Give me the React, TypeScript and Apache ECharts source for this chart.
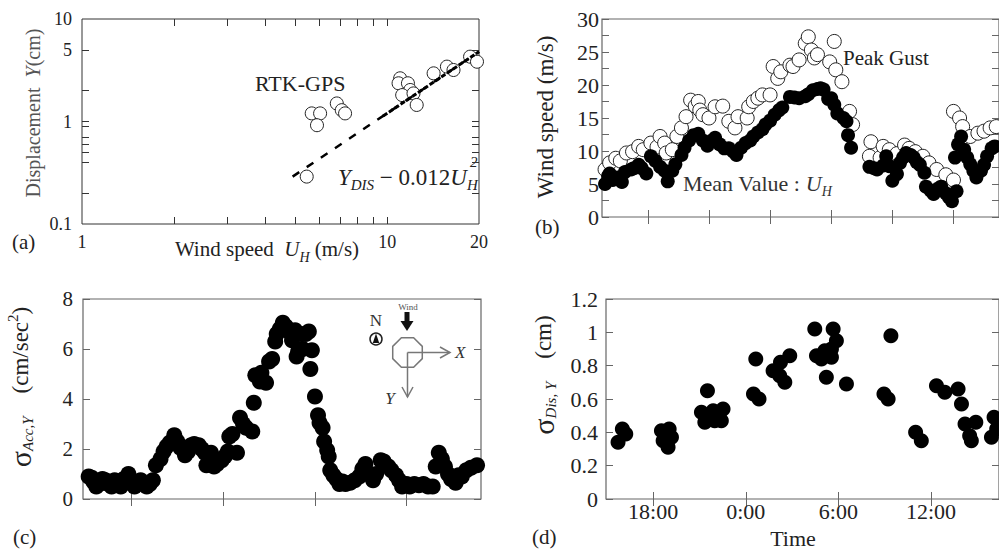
import React, { useEffect, useRef } from 'react';
import * as echarts from 'echarts';

const FONT = "'Liberation Serif', 'Times New Roman', serif";

// ---------- (a) displacement vs wind speed (log-log) ----------
const rtkGps: [number, number][] = [
  [5.66, 1.2], [6.03, 1.2], [5.89, 0.92], [6.84, 1.5], [7.1, 1.29], [7.28, 1.2], [5.45, 0.29],
  [11.03, 2.64], [10.9, 2.36], [11.7, 2.36], [11.9, 2.03], [11.2, 1.81], [12.2, 1.88], [12.5, 1.45],
  [14.2, 2.95], [15.7, 3.43], [16.5, 3.18], [18.7, 4.29], [19.7, 3.83],
];
const fitLine: [number, number][] = [[4.9, 0.29], [20, 4.8]];
const fitLineDense: [number, number][] = [[9.7, 1.13], [20, 4.8]];
const aXLabels = [1, 10, 20];
const aXTicks = [2, 3, 4, 5, 6, 7, 8, 9, 10];
const aYLabels = [0.1, 1, 5, 10];
const aYTicks = [0.2, 0.4, 0.5, 0.6, 0.7, 0.9, 1, 2, 5];

// ---------- (b) wind speed time history (hours from 0:00 of day 1) ----------
const meanSpeed: [number, number][] = [
  [15.2, 5.0], [15.4, 6.2], [15.5, 6.6], [15.7, 5.6], [16.0, 6.0], [16.3, 5.3], [16.5, 6.8], [16.9, 7.2],
  [17.1, 7.4], [17.4, 7.9], [17.6, 7.4], [17.9, 6.6], [18.2, 9.2], [18.5, 8.5], [18.8, 7.6], [19.1, 7.0],
  [19.3, 5.4], [19.6, 7.0], [19.8, 8.0], [20.2, 9.4], [20.4, 10.5], [20.7, 11.6], [21.0, 12.4], [21.3, 12.6],
  [21.6, 11.6], [21.9, 10.8], [22.2, 11.6], [22.4, 12.0], [22.7, 11.0], [23.0, 10.4], [23.3, 10.4], [23.6, 9.9],
  [23.8, 9.4], [24.1, 10.5], [24.4, 11.2], [24.7, 11.6], [24.9, 12.2], [25.2, 12.8], [25.5, 13.3], [25.7, 14.0],
  [26.0, 14.6], [26.3, 15.5], [26.6, 16.2], [26.8, 16.6], [27.3, 18.2], [27.6, 18.1], [27.9, 18.0], [28.3, 18.3],
  [28.5, 18.6], [28.8, 19.2], [29.1, 19.4], [29.3, 19.5], [29.5, 19.3], [29.8, 17.9], [30.0, 18.0], [30.2, 17.0],
  [30.4, 15.7], [30.8, 15.0], [31.0, 14.5], [31.1, 12.4], [31.3, 10.5],
  [32.5, 7.6], [32.8, 7.4], [33.0, 7.2], [33.4, 7.8], [33.6, 9.2], [33.8, 7.7], [34.0, 5.5], [34.3, 6.5],
  [34.5, 8.2], [34.7, 9.0], [34.9, 9.7], [35.2, 9.4], [35.4, 9.0], [35.6, 8.3], [35.8, 7.9], [36.1, 6.7],
  [36.2, 4.6], [36.5, 4.0], [36.7, 3.5], [37.0, 4.3], [37.2, 4.6], [37.5, 3.6], [37.7, 3.0], [37.9, 2.4],
  [38.2, 3.9], [38.1, 9.0], [38.3, 11.0], [38.5, 12.2], [38.7, 10.2], [38.9, 9.0], [39.1, 8.0], [39.3, 7.0],
  [39.5, 6.0], [39.8, 7.0], [40.0, 7.9], [40.2, 9.2], [40.5, 10.4], [40.7, 10.7],
];
const peakGust: [number, number][] = [
  [15.2, 7.2], [15.5, 8.2], [15.9, 8.9], [16.2, 8.5], [16.6, 9.7], [17.0, 9.9], [17.4, 10.7], [17.7, 10.2],
  [18.2, 11.2], [18.6, 10.6], [18.8, 12.2], [19.1, 11.2], [19.2, 9.7], [19.6, 10.2], [19.9, 12.2], [20.2, 13.5],
  [20.5, 15.2], [20.8, 17.7], [21.1, 16.8], [21.3, 17.5], [21.4, 16.2], [21.6, 15.5], [22.0, 15.0], [22.4, 16.7],
  [22.9, 16.8], [23.3, 14.5], [23.7, 13.5], [23.9, 15.2], [24.5, 15.0], [24.6, 16.7], [24.9, 17.5], [25.2, 18.0],
  [25.5, 18.5], [26.0, 18.5], [26.2, 22.8], [26.5, 21.0], [26.7, 22.0], [27.3, 23.0], [27.5, 22.8], [27.9, 23.8],
  [28.3, 26.3], [28.5, 27.3], [28.7, 25.3], [28.9, 24.1], [29.1, 24.6], [29.9, 23.5], [30.2, 26.6], [30.3, 22.3],
  [30.7, 20.5], [31.2, 16.0], [31.4, 14.0],
  [32.5, 9.2], [32.6, 11.4], [33.2, 9.0], [33.4, 10.7], [33.8, 10.2], [34.3, 9.6], [34.8, 10.9], [35.1, 10.4],
  [35.5, 9.9], [36.0, 9.2], [36.4, 8.2], [36.9, 7.2], [37.5, 6.4], [38.0, 5.6], [38.0, 16.0], [38.4, 15.0],
  [38.6, 13.7], [39.1, 12.2], [39.6, 12.7], [40.0, 13.0], [40.4, 13.5], [40.8, 13.7],
];
const bTicks = [18, 22, 26, 30, 34, 38];

// ---------- (c) RMS acceleration ----------
const accSigma: [number, number][] = [
  [15.2, 0.9], [15.4, 0.85], [15.5, 0.7], [15.7, 0.5], [15.9, 0.6], [16.1, 0.8], [16.3, 0.75], [16.5, 0.6],
  [16.7, 0.5], [16.9, 0.75], [17.1, 0.6], [17.3, 0.5], [17.5, 0.8], [17.8, 1.0], [18.0, 0.7], [18.2, 0.5],
  [18.4, 0.6], [18.6, 0.75], [18.8, 0.6], [19.0, 0.5], [19.2, 0.6], [19.4, 0.75], [19.6, 1.35], [19.9, 1.6],
  [20.1, 1.9], [20.3, 2.1], [20.5, 2.25], [20.8, 2.55], [21.0, 2.3], [21.2, 2.05], [21.5, 1.75], [21.7, 1.9],
  [21.9, 2.15], [22.1, 2.2], [22.4, 2.15], [22.6, 2.0], [22.8, 1.85], [22.9, 1.35], [23.1, 1.6], [23.2, 1.85],
  [23.4, 1.3], [23.6, 1.4], [23.9, 1.55], [24.1, 1.7], [24.3, 1.9], [24.4, 2.5], [24.6, 2.6], [24.9, 1.85],
  [25.1, 3.25], [25.3, 3.0], [25.5, 2.85], [25.9, 2.7], [26.0, 3.85], [26.1, 4.95], [26.4, 4.7], [26.5, 5.05],
  [26.8, 4.65], [27.0, 5.5], [27.2, 5.6], [27.4, 6.3], [27.5, 6.6], [27.7, 6.8], [27.9, 7.05], [28.1, 6.9],
  [28.3, 6.7], [28.5, 6.35], [28.7, 6.75], [28.8, 5.7], [28.9, 5.9], [29.1, 6.6], [29.2, 6.0], [29.4, 6.6],
  [29.6, 6.7], [29.7, 5.2], [29.8, 5.95], [30.0, 4.1], [30.2, 3.35], [30.3, 3.05], [30.5, 2.85], [30.6, 2.3],
  [30.8, 1.95], [30.9, 1.7], [31.0, 1.15], [31.2, 0.95], [31.4, 0.8], [31.6, 0.6], [31.8, 0.7], [32.0, 0.6],
  [32.3, 0.65], [32.6, 0.75], [32.9, 0.9], [33.1, 1.2], [33.3, 1.4], [33.5, 1.0], [33.8, 0.75], [34.0, 1.0],
  [34.3, 1.55], [34.5, 1.5], [34.8, 1.3], [35.0, 1.15], [35.3, 0.95], [35.5, 0.75], [35.7, 0.5], [36.0, 0.6],
  [36.2, 0.5], [36.5, 0.6], [36.8, 0.55], [37.1, 0.6], [37.4, 0.5], [37.7, 0.5], [37.9, 1.3], [38.1, 1.85],
  [38.3, 1.6], [38.5, 1.3], [38.7, 1.0], [38.9, 0.8], [39.2, 0.65], [39.4, 0.95], [39.6, 0.9], [39.9, 1.15],
  [40.2, 1.25], [40.6, 1.35],
];
const cTicks = [18, 24, 30, 36];

// ---------- (d) RMS displacement ----------
const disSigma: [number, number][] = [
  [15.73, 0.34], [16.01, 0.42], [16.23, 0.39],
  [18.54, 0.41], [18.65, 0.35], [18.86, 0.36], [18.97, 0.31], [19.04, 0.42], [19.19, 0.37],
  [21.13, 0.52], [21.35, 0.46], [21.52, 0.65], [21.89, 0.53], [21.99, 0.47], [22.32, 0.52], [22.42, 0.47], [22.53, 0.54],
  [24.5, 0.63], [24.65, 0.84], [24.86, 0.6],
  [25.77, 0.77], [26.25, 0.82], [26.2, 0.74], [26.53, 0.7], [26.85, 0.86],
  [28.47, 1.02], [28.58, 0.86], [28.9, 0.84], [29.12, 0.89], [29.22, 0.73], [29.55, 0.9], [29.55, 0.85], [29.66, 1.02], [29.87, 0.95],
  [30.52, 0.69],
  [32.95, 0.63], [33.22, 0.6], [33.4, 0.98],
  [35.0, 0.4], [35.37, 0.35],
  [36.35, 0.68], [36.89, 0.64], [37.75, 0.66], [37.97, 0.57], [38.2, 0.45], [38.5, 0.38], [38.61, 0.35], [38.9, 0.46],
  [39.91, 0.37], [40.08, 0.49], [40.25, 0.42],
];
const dTicks = [18, 24, 30, 36];

const tick = (color: string, custom?: number[]) => ({
  inside: true,
  length: 7,
  lineStyle: { color, width: 1 },
  ...(custom ? { customValues: custom } : {}),
});
const lbl = (size: number, margin: number, extra: any = {}) => ({
  fontFamily: FONT,
  fontSize: size,
  color: '#222',
  margin,
  ...extra,
});
const noLine = { show: false };
const noSplit = { show: false };

const tx = (x: number, y: number, text: string, extra: any = {}, rotation = 0) => ({
  type: 'text',
  x,
  y,
  rotation,
  silent: true,
  style: {
    text,
    fontFamily: FONT,
    fontSize: 21,
    fill: '#222',
    align: 'left',
    verticalAlign: 'middle',
    ...extra,
  },
});

const richStyles = (size: number, sub: number, fill: string) => ({
  n: { fontFamily: FONT, fontSize: size, fill, lineHeight: 30 },
  i: { fontFamily: FONT, fontSize: size, fontStyle: 'italic', fill, lineHeight: 30 },
  g: { fontFamily: FONT, fontSize: 30, fill, lineHeight: 30 },
  s: { fontFamily: FONT, fontSize: sub, fontStyle: 'italic', fill, lineHeight: 14, verticalAlign: 'bottom' },
  p: { fontFamily: FONT, fontSize: sub, fill, lineHeight: 14, verticalAlign: 'top' },
});

const octagon: number[][] = [];
for (let k = 0; k < 8; k++) {
  const a = Math.PI / 8 + (k * Math.PI) / 4;
  octagon.push([407.5 + 16 * Math.cos(a), 352.5 + 16 * Math.sin(a)]);
}

const graphics: any[] = [
  // (a)
  tx(12, 242, '(a)'),
  tx(255, 83, 'RTK-GPS', { fontSize: 22 }),
  {
    type: 'text', x: 338, y: 177, silent: true,
    style: { text: '{i|Y}{s|DIS}{n| − 0.012}{i|U}{s|H}', rich: richStyles(23, 15, '#222'), align: 'left', verticalAlign: 'middle' },
  },
  tx(470, 162, '2', { fontSize: 15, fontStyle: 'italic' }),
  {
    type: 'text', x: 33, y: 113, rotation: Math.PI / 2, silent: true,
    style: { text: '{n|Displacement  }{i|Y}{n|(cm)}', rich: richStyles(20, 14, '#555'), align: 'center', verticalAlign: 'middle' },
  },
  {
    type: 'text', x: 267, y: 249, silent: true,
    style: { text: '{n|Wind speed  }{i|U}{s|H}{n| (m/s)}', rich: richStyles(21, 14, '#222'), align: 'center', verticalAlign: 'middle' },
  },
  // (b)
  tx(535, 227, '(b)'),
  tx(843, 58, 'Peak Gust'),
  {
    type: 'text', x: 683, y: 183, silent: true,
    style: { text: '{n|Mean Value : }{i|U}{s|H}', rich: richStyles(22, 14, '#333'), align: 'left', verticalAlign: 'middle' },
  },
  tx(545, 117, 'Wind speed (m/s)', { fontSize: 23, align: 'center' }, Math.PI / 2),
  // (c)
  tx(13, 537, '(c)'),
  {
    type: 'text', x: 20, y: 387, rotation: Math.PI / 2, silent: true,
    style: { text: '{g|σ}{s|Acc,Y}{n|    (cm/sec}{p|2}{n|)}', rich: richStyles(23, 15, '#222'), align: 'center', verticalAlign: 'middle' },
  },
  // compass inset
  tx(376, 320, 'N', { fontSize: 17, align: 'center', fill: '#333' }),
  { type: 'circle', silent: true, shape: { cx: 376, cy: 339, r: 6 }, style: { fill: '#fff', stroke: '#222', lineWidth: 1.5 } },
  { type: 'polygon', silent: true, shape: { points: [[376, 333.5], [372.8, 343], [379.2, 343]] }, style: { fill: '#111' } },
  tx(408, 307, 'Wind', { fontSize: 9, align: 'center', fill: '#555' }),
  { type: 'rect', silent: true, shape: { x: 404.5, y: 312, width: 5, height: 10 }, style: { fill: '#111' } },
  { type: 'polygon', silent: true, shape: { points: [[400.5, 321], [413.5, 321], [407, 331]] }, style: { fill: '#111' } },
  { type: 'polygon', silent: true, shape: { points: octagon }, style: { fill: 'none', stroke: '#777', lineWidth: 1.5 } },
  { type: 'line', silent: true, shape: { x1: 407.5, y1: 352.5, x2: 450, y2: 352.5 }, style: { stroke: '#777', lineWidth: 1.5 } },
  { type: 'polyline', silent: true, shape: { points: [[440, 347], [450, 352.5], [440, 358]] }, style: { fill: 'none', stroke: '#777', lineWidth: 1.5 } },
  tx(455, 352, 'X', { fontSize: 17, fontStyle: 'italic', fill: '#333' }),
  { type: 'line', silent: true, shape: { x1: 407.5, y1: 352.5, x2: 407.5, y2: 397 }, style: { stroke: '#777', lineWidth: 1.5 } },
  { type: 'polyline', silent: true, shape: { points: [[402, 387], [407.5, 397], [413, 387]] }, style: { fill: 'none', stroke: '#777', lineWidth: 1.5 } },
  tx(390, 398, 'Y', { fontSize: 17, fontStyle: 'italic', fill: '#333', align: 'center' }),
  // (d)
  tx(532, 537, '(d)'),
  tx(793, 538, 'Time', { fontSize: 22, align: 'center' }),
  {
    type: 'text', x: 543, y: 375, rotation: Math.PI / 2, silent: true,
    style: { text: '{g|σ}{s|Dis, Y}{n|    (cm)}', rich: richStyles(23, 15, '#222'), align: 'center', verticalAlign: 'middle' },
  },
];

const A = '#333';
const G = '#666';

const option: any = {
  animation: false,
  backgroundColor: '#fff',
  textStyle: { fontFamily: FONT },
  grid: [
    { left: 82, top: 19, width: 397, height: 205, show: true, borderColor: A, borderWidth: 1, backgroundColor: 'transparent' },
    { left: 602, top: 19, width: 398, height: 198, show: true, borderColor: G, borderWidth: 1.2, backgroundColor: 'transparent' },
    { left: 83, top: 299, width: 398, height: 200, show: true, borderColor: G, borderWidth: 1.2, backgroundColor: 'transparent' },
    { left: 606, top: 299, width: 394, height: 200, show: true, borderColor: G, borderWidth: 1.2, backgroundColor: 'transparent' },
  ],
  xAxis: [
    { type: 'log', logBase: 10, gridIndex: 0, min: 1, max: 20, axisLine: noLine, splitLine: noSplit, axisTick: tick(A, aXTicks), axisLabel: lbl(18, 9, { customValues: aXLabels }) },
    { type: 'log', logBase: 10, gridIndex: 0, position: 'top', min: 1, max: 20, axisLine: noLine, splitLine: noSplit, axisTick: tick(A, aXTicks), axisLabel: { show: false } },
    { type: 'value', gridIndex: 1, min: 15, max: 40.98, axisLine: noLine, splitLine: noSplit, axisTick: tick(G, bTicks), axisLabel: { show: false } },
    { type: 'value', gridIndex: 1, position: 'top', min: 15, max: 40.98, axisLine: noLine, splitLine: noSplit, axisTick: tick(G, bTicks), axisLabel: { show: false } },
    { type: 'value', gridIndex: 2, min: 14.83, max: 40.86, axisLine: noLine, splitLine: noSplit, axisTick: tick(G, cTicks), axisLabel: { show: false } },
    { type: 'value', gridIndex: 2, position: 'top', min: 14.83, max: 40.86, axisLine: noLine, splitLine: noSplit, axisTick: tick(G, cTicks), axisLabel: { show: false } },
    {
      type: 'value', gridIndex: 3, min: 14.95, max: 40.4, axisLine: noLine, splitLine: noSplit, axisTick: tick(G, dTicks),
      axisLabel: lbl(22, 1, { customValues: dTicks, formatter: (v: number) => `${Math.round(v) % 24}:00` }),
    },
    { type: 'value', gridIndex: 3, position: 'top', min: 14.95, max: 40.4, axisLine: noLine, splitLine: noSplit, axisTick: tick(G, dTicks), axisLabel: { show: false } },
  ],
  yAxis: [
    { type: 'log', logBase: 10, gridIndex: 0, min: 0.1, max: 10, axisLine: noLine, splitLine: noSplit, axisTick: tick(A, aYTicks), axisLabel: lbl(18, 10, { customValues: aYLabels }) },
    { type: 'log', logBase: 10, gridIndex: 0, position: 'right', min: 0.1, max: 10, axisLine: noLine, splitLine: noSplit, axisTick: tick(A, aYTicks), axisLabel: { show: false } },
    {
      type: 'value', gridIndex: 1, min: 0, max: 30, interval: 2.5, axisLine: noLine, splitLine: noSplit, axisTick: tick(G),
      axisLabel: lbl(22, 3, { formatter: (v: number) => (Math.abs(v % 5) < 1e-6 ? String(v) : '') }),
    },
    { type: 'value', gridIndex: 1, position: 'right', min: 0, max: 30, interval: 2.5, axisLine: noLine, splitLine: noSplit, axisTick: tick(G), axisLabel: { show: false } },
    { type: 'value', gridIndex: 2, min: 0, max: 8, interval: 2, axisLine: noLine, splitLine: noSplit, axisTick: tick(G), axisLabel: lbl(21, 10) },
    { type: 'value', gridIndex: 2, position: 'right', min: 0, max: 8, interval: 2, axisLine: noLine, splitLine: noSplit, axisTick: tick(G), axisLabel: { show: false } },
    { type: 'value', gridIndex: 3, min: 0, max: 1.2, interval: 0.2, axisLine: noLine, splitLine: noSplit, axisTick: tick(G), axisLabel: lbl(22, 8) },
    { type: 'value', gridIndex: 3, position: 'right', min: 0, max: 1.2, interval: 0.2, axisLine: noLine, splitLine: noSplit, axisTick: tick(G), axisLabel: { show: false } },
  ],
  series: [
    {
      type: 'scatter', name: 'RTK-GPS', xAxisIndex: 0, yAxisIndex: 0, data: rtkGps, symbolSize: 13, z: 2,
      itemStyle: { color: '#fff', borderColor: '#222', borderWidth: 1, opacity: 1 },
    },
    {
      type: 'line', xAxisIndex: 0, yAxisIndex: 0, data: fitLine, symbol: 'none', showSymbol: false, z: 3,
      lineStyle: { color: '#000', width: 2.5, type: [8, 9] },
    },
    {
      type: 'line', xAxisIndex: 0, yAxisIndex: 0, data: fitLineDense, symbol: 'none', showSymbol: false, z: 3,
      lineStyle: { color: '#000', width: 3, type: [5, 2] },
    },
    {
      type: 'scatter', name: 'Peak Gust', xAxisIndex: 2, yAxisIndex: 2, data: peakGust, symbolSize: 14, z: 2,
      itemStyle: { color: '#fff', borderColor: '#222', borderWidth: 1, opacity: 1 },
    },
    {
      type: 'scatter', name: 'Mean', xAxisIndex: 2, yAxisIndex: 2, data: meanSpeed, symbolSize: 14, z: 3,
      itemStyle: { color: '#000', opacity: 1 },
    },
    {
      type: 'scatter', name: 'Acc', xAxisIndex: 4, yAxisIndex: 4, data: accSigma, symbolSize: 16,
      itemStyle: { color: '#000', opacity: 1 },
    },
    {
      type: 'scatter', name: 'Dis', xAxisIndex: 6, yAxisIndex: 6, data: disSigma, symbolSize: 15,
      itemStyle: { color: '#000', opacity: 1 },
    },
  ],
  graphic: { elements: graphics },
};

export default function App() {
  const ref = useRef<HTMLDivElement>(null);
  useEffect(() => {
    if (!ref.current) return;
    const chart = echarts.init(ref.current, null, { renderer: 'svg' });
    chart.setOption(option);
    return () => chart.dispose();
  }, []);
  return (
    <div
      ref={ref}
      style={{ position: 'absolute', left: 0, top: 0, width: 999, height: 552, background: '#fff', overflow: 'hidden' }}
    />
  );
}
